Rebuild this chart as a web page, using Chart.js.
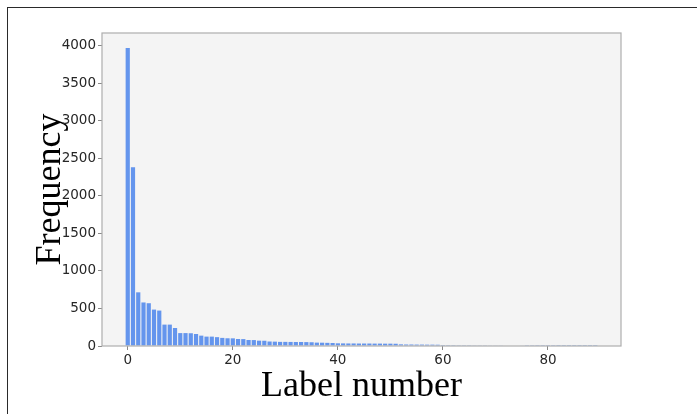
<!DOCTYPE html>
<html>
<head>
    <title>Label frequency</title>
    <meta charset="UTF-8">
    <script src="https://cdn.jsdelivr.net/npm/chart.js@4.4.0/dist/chart.umd.min.js"></script>
    <style>
        body { margin: 0; background: #fff; }
        #wrap { position: relative; width: 697px; height: 414px; }
        #frame { position: absolute; left: 7px; top: 7px; right: -5px; bottom: -5px;
                 border-left: 1px solid #2a2a2a; border-top: 1px solid #2a2a2a; }
        canvas { position: absolute; left: 0; top: 0; }
    </style>
</head>
<body>
<div id="wrap">
    <div id="frame"></div>
    <canvas id="myChart" width="697" height="414"></canvas>
</div>

<script>
    // label numbers (x) and how many times each one occurs (y)
    var labelNumbers = [0, 1, 2, 3, 4, 5, 6, 7, 8, 9, 10, 11, 12, 13, 14, 15, 16, 17, 18, 19,
        20, 21, 22, 23, 24, 25, 26, 27, 28, 29, 30, 31, 32, 33, 34, 35, 36, 37, 38, 39,
        40, 41, 42, 43, 44, 45, 46, 47, 48, 49, 50, 51, 52, 53, 54, 55, 56, 57, 58, 59,
        60, 61, 62, 63, 64, 65, 66, 67, 68, 69, 70, 71, 72, 73, 74, 75, 76, 77, 78, 79,
        80, 81, 82, 83, 84, 85, 86, 87, 88, 89];
    var frequency = [3970, 2380, 715, 580, 570, 485, 472, 285, 285, 240,
        172, 172, 170, 160, 138, 125, 125, 118, 108, 103,
        102, 93, 92, 80, 79, 71, 70, 60, 58, 55,
        55, 54, 53, 53, 52, 50, 45, 44, 42, 40,
        36, 35, 34, 34, 33, 33, 33, 32, 32, 31,
        31, 30, 22, 20, 20, 19, 19, 18, 18, 17,
        12, 11, 11, 10, 10, 10, 9, 9, 9, 8,
        8, 8, 7, 7, 7, 6, 3, 3, 2, 2,
        2, 2, 1, 1, 1, 1, 1, 1, 1, 1];
    var xTicks = [0, 20, 40, 60, 80];
    var yTicks = [0, 500, 1000, 1500, 2000, 2500, 3000, 3500, 4000];

    var points = labelNumbers.map(function (n, i) {
        return { x: n, y: frequency[i] };
    });

    // grey plot background and box around the plot area
    var plotBox = {
        id: 'plotBox',
        beforeDraw: function (chart) {
            var a = chart.chartArea, ctx = chart.ctx;
            ctx.save();
            ctx.fillStyle = '#f4f4f4';
            ctx.fillRect(a.left, a.top, a.right - a.left, a.bottom - a.top);
            ctx.restore();
        },
        afterDraw: function (chart) {
            var a = chart.chartArea, ctx = chart.ctx;
            ctx.save();
            ctx.strokeStyle = '#adadad';
            ctx.lineWidth = 1.2;
            ctx.strokeRect(a.left, a.top, a.right - a.left, a.bottom - a.top);
            ctx.restore();
        }
    };

    var tickFont = { family: 'DejaVu Sans', size: 13.5 };
    var titleFont = { family: 'Liberation Serif', size: 36 };
    var plain = function (v) { return String(v); };

    var ctx = document.getElementById('myChart');
    var myChart = new Chart(ctx, {
        type: 'bar',
        data: {
            datasets: [{
                label: 'Frequency',
                data: points,
                backgroundColor: 'rgb(100, 149, 237)',
                borderWidth: 0,
                barPercentage: 0.8,
                categoryPercentage: 1.0
            }]
        },
        options: {
            responsive: false,
            animation: false,
            layout: { padding: { left: 29, top: 33, right: 76, bottom: 6 } },
            plugins: { legend: { display: false }, tooltip: { enabled: false } },
            scales: {
                x: {
                    type: 'linear',
                    min: -4.9,
                    max: 93.9,
                    offset: false,
                    afterFit: function (s) { s.height = 62; },
                    afterBuildTicks: function (s) {
                        s.ticks = xTicks.map(function (v) { return { value: v }; });
                    },
                    grid: { drawOnChartArea: false, offset: false, tickLength: 4, color: '#888', lineWidth: 1 },
                    border: { display: false },
                    ticks: { font: tickFont, color: '#262626', padding: 2, maxRotation: 0, callback: plain },
                    title: { display: true, text: 'Label number', font: titleFont, color: '#000', padding: 0 }
                },
                y: {
                    min: 0,
                    max: 4170,
                    afterFit: function (s) { s.width = 73; },
                    afterBuildTicks: function (s) {
                        s.ticks = yTicks.map(function (v) { return { value: v }; });
                    },
                    grid: { drawOnChartArea: false, tickLength: 4, color: '#888', lineWidth: 1 },
                    border: { display: false },
                    ticks: { font: tickFont, color: '#262626', padding: 2, callback: plain },
                    title: { display: true, text: 'Frequency', font: titleFont, color: '#000', padding: 0 }
                }
            }
        },
        plugins: [plotBox]
    });
</script>
</body>
</html>
